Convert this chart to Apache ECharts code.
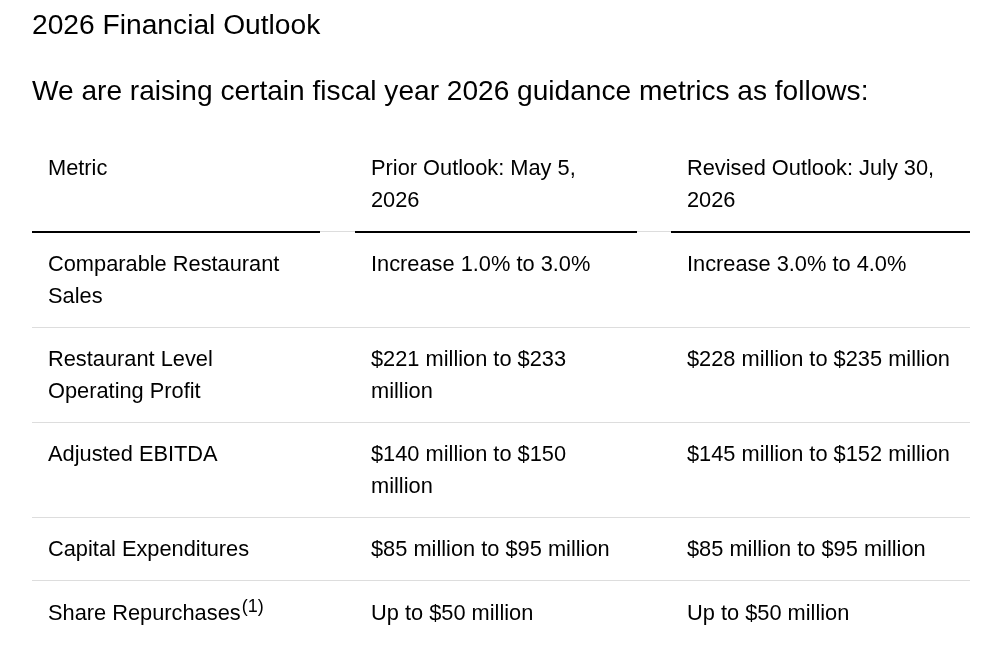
<!DOCTYPE html>
<html>
<head>
<meta charset="utf-8">
<title>2026 Financial Outlook</title>
<script src="https://cdn.jsdelivr.net/npm/echarts@6/dist/echarts.min.js"></script>
<style>
  html, body { margin: 0; padding: 0; background: #fff; }
  #main { width: 987px; height: 665px; }
</style>
</head>
<body>
<div id="main"></div>
<script>
// table content
var title = '2026 Financial Outlook';
var subtitle = 'We are raising certain fiscal year 2026 guidance metrics as follows:';
var headers = ['Metric', 'Prior Outlook: May 5,\n2026', 'Revised Outlook: July 30,\n2026'];
var metrics = ['Comparable Restaurant\nSales', 'Restaurant Level\nOperating Profit', 'Adjusted EBITDA', 'Capital Expenditures', 'Share Repurchases'];
var notes = ['', '', '', '', '(1)'];
var prior = ['Increase 1.0% to 3.0%', '$221 million to $233\nmillion', '$140 million to $150\nmillion', '$85 million to $95 million', 'Up to $50 million'];
var revised = ['Increase 3.0% to 4.0%', '$228 million to $235 million', '$145 million to $152 million', '$85 million to $95 million', 'Up to $50 million'];

(function () {
  var myChart = echarts.init(document.getElementById('main'))
  var font = "'Liberation Sans', Arial, sans-serif"
  // column edges
  var colLeft = [32, 355, 671]
  var colRight = [320, 637, 970]
  var pad = 16
  var lineH = 31.5
  var tableTop = 136
  // text sits a little lower than the box top
  var dy = 1.5

  function lines(s) {
    return s.split('\n').length
  }

  function cell(x, y, text, rich) {
    return {
      type: 'text',
      x: x,
      y: y + dy,
      silent: true,
      style: {
        text: text,
        fill: '#000',
        fontSize: 21.8,
        fontFamily: font,
        lineHeight: lineH,
        verticalAlign: 'top',
        rich: rich
      }
    }
  }

  var els = []
  // 标题
  els.push({
    type: 'text', x: 32, y: 26.5, silent: true,
    style: { text: title, fill: '#000', fontSize: 28.2, fontFamily: font, verticalAlign: 'middle' }
  })
  els.push({
    type: 'text', x: 32, y: 92.5, silent: true,
    style: { text: subtitle, fill: '#000', fontSize: 28.1, fontFamily: font, verticalAlign: 'middle' }
  })

  // header row
  var n = Math.max.apply(null, headers.map(lines))
  var rowH = n * lineH + pad * 2
  headers.forEach(function (h, i) {
    els.push(cell(colLeft[i] + pad, tableTop + pad, h))
  })
  var y = tableTop + rowH
  // thin line under header, then thick segments per column
  els.push({
    type: 'line', silent: true,
    shape: { x1: colLeft[0], y1: y + 0.5, x2: colRight[2], y2: y + 0.5 },
    style: { stroke: '#dddddd', lineWidth: 1 }
  })
  colLeft.forEach(function (x0, i) {
    els.push({
      type: 'line', silent: true, z: 2,
      shape: { x1: x0, y1: y + 1, x2: colRight[i], y2: y + 1 },
      style: { stroke: '#000', lineWidth: 2 }
    })
  })
  y += 1

  // body rows
  metrics.forEach(function (m, r) {
    var cells = [m, prior[r], revised[r]]
    var k = Math.max.apply(null, cells.map(lines))
    var h = k * lineH + pad * 2
    if (notes[r]) {
      els.push(cell(colLeft[0] + pad, y + pad, '{m|' + m + '}{s|' + notes[r] + '}', {
        m: { fontSize: 21.8, fontFamily: font, fill: '#000', lineHeight: lineH },
        s: { fontSize: 18, fontFamily: font, fill: '#000', lineHeight: 24, verticalAlign: 'top', padding: [0, 0, 0, 1] }
      }))
    } else {
      els.push(cell(colLeft[0] + pad, y + pad, m))
    }
    els.push(cell(colLeft[1] + pad, y + pad, prior[r]))
    els.push(cell(colLeft[2] + pad, y + pad, revised[r]))
    y += h
    if (r < metrics.length - 1) {
      els.push({
        type: 'line', silent: true,
        shape: { x1: colLeft[0], y1: Math.floor(y) + 0.5, x2: colRight[2], y2: Math.floor(y) + 0.5 },
        style: { stroke: '#dddddd', lineWidth: 1 }
      })
    }
  })

  var option = {
    backgroundColor: '#fff',
    animation: false,
    graphic: { elements: els }
  }
  myChart.setOption(option)
  window.addEventListener('resize', function () {
    myChart.resize()
  })
})()
</script>
</body>
</html>
